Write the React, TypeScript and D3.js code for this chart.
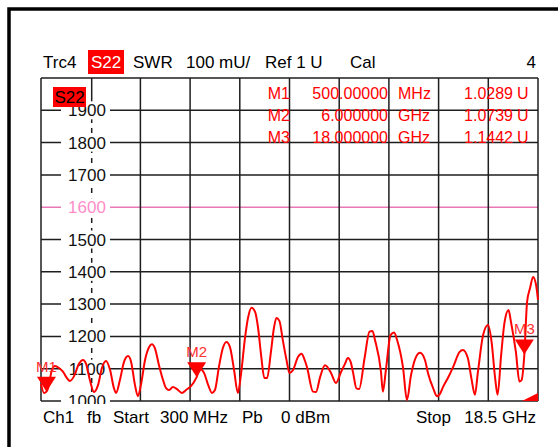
import React from 'react';
import * as d3 from 'd3';

// trace: S22 SWR vs frequency (GHz)
const freqGHz = [
  0.30, 0.41, 0.50, 0.56, 0.70, 0.81, 0.96, 1.11, 1.25, 1.36, 1.51, 1.69, 1.84, 1.95, 2.09, 2.24,
  2.39, 2.53, 2.68, 2.83, 2.97, 3.05, 3.19, 3.34, 3.49, 3.60, 3.74, 3.85, 3.96, 4.11, 4.26, 4.36,
  4.47, 4.62, 4.77, 4.88, 4.99, 5.13, 5.28, 5.46, 5.61, 5.79, 6.00, 6.12, 6.27, 6.42, 6.56, 6.67,
  6.82, 6.96, 7.09, 7.22, 7.37, 7.51, 7.62, 7.77, 7.88, 8.01, 8.14, 8.25, 8.36, 8.48, 8.58, 8.72,
  8.83, 8.92, 9.03, 9.16, 9.29, 9.40, 9.53, 9.71, 9.84, 9.93, 10.04, 10.26, 10.37, 10.52, 10.70, 10.92,
  11.10, 11.29, 11.43, 11.54, 11.65, 11.73, 11.85, 11.95, 12.15, 12.33, 12.44, 12.53, 12.75, 12.82, 12.93, 13.10,
  13.23, 13.34, 13.56, 13.70, 13.85, 14.03, 14.18, 14.36, 14.47, 14.66, 14.80, 14.91, 15.02, 15.20, 15.39, 15.63,
  15.75, 15.93, 16.06, 16.19, 16.30, 16.49, 16.67, 16.80, 16.93, 17.02, 17.15, 17.27, 17.42, 17.51, 17.69, 17.82,
  17.90, 18.00, 18.10, 18.21, 18.32, 18.43, 18.50,
];
const swr = [
  1.053, 1.025, 1.029, 1.040, 1.096, 1.108, 1.102, 1.090, 1.071, 1.062, 1.077, 1.115, 1.127, 1.115, 1.065, 1.028,
  1.050, 1.102, 1.124, 1.096, 1.040, 1.025, 1.065, 1.121, 1.139, 1.121, 1.050, 1.015, 1.050, 1.127, 1.167, 1.176,
  1.164, 1.111, 1.065, 1.040, 1.034, 1.043, 1.037, 1.025, 1.034, 1.046, 1.074, 1.099, 1.087, 1.050, 1.025, 1.034,
  1.108, 1.164, 1.183, 1.167, 1.096, 1.025, 1.080, 1.195, 1.257, 1.289, 1.276, 1.226, 1.142, 1.071, 1.071, 1.152,
  1.226, 1.257, 1.248, 1.186, 1.127, 1.087, 1.096, 1.136, 1.146, 1.133, 1.105, 1.029, 1.028, 1.074, 1.111, 1.087,
  1.056, 1.090, 1.115, 1.133, 1.118, 1.087, 1.039, 1.037, 1.133, 1.215, 1.217, 1.189, 1.090, 1.029, 1.096, 1.204,
  1.212, 1.189, 1.102, 1.003, 1.080, 1.136, 1.149, 1.127, 1.087, 1.040, 1.015, 1.022, 1.043, 1.071, 1.105, 1.152,
  1.158, 1.133, 1.071, 1.019, 1.090, 1.204, 1.235, 1.183, 1.071, 1.019, 1.142, 1.241, 1.282, 1.245, 1.152, 1.060,
  1.065, 1.144, 1.307, 1.350, 1.384, 1.359, 1.313,
];

const markerNames = ['M1', 'M2', 'M3'];
const markerFreq = [0.5, 6, 18];
const markerSwr = [1.0289, 1.0739, 1.1442];
const markerFreqText = ['500.00000', '6.000000', '18.000000'];
const markerUnitText = ['MHz', 'GHz', 'GHz'];
const markerValueText = ['1.0289', '1.0739', '1.1442'];

const yTicks = [1.0, 1.1, 1.2, 1.3, 1.4, 1.5, 1.6, 1.7, 1.8, 1.9, 2.0];
const yTickLabels = ['1000', '1100', '1200', '1300', '1400', '1500', '1600', '1700', '1800', '1900'];
const limitValue = 1.6;

const headerLabels = ['Trc4', 'S22', 'SWR', '100 mU/', 'Ref 1 U', 'Cal', '4'];
const footerLabels = ['Ch1', 'fb', 'Start', '300 MHz', 'Pb', '0 dBm', 'Stop', '18.5 GHz'];

const W = 558;
const H = 447;
const left = 41;
const right = 538;
const top = 78;
const bottom = 401;
const font = '"Liberation Sans", Arial, sans-serif';
const RED = '#ff0000';
const PINK_LINE = '#e879b5';
const PINK_TEXT = '#ff8dc8';

export default function App() {
  const x = d3.scaleLinear().domain([0.3, 18.5]).range([left, right]);
  const y = d3.scaleLinear().domain([1, 2]).range([bottom, top]);
  const divs = d3.range(11).map((i) => 0.3 + (i * 18.2) / 10);
  const axisX = x(divs[1]) + 1;

  const line = d3
    .line<number>()
    .x((_, i) => x(freqGHz[i]))
    .y((d) => y(d))
    .curve(d3.curveMonotoneX);

  const headerX = [43, 88, 133, 186, 265, 350, 536];
  const footerX = [43, 87, 113, 160, 242, 281, 416, 536];

  return (
    <svg
      width={W}
      height={H}
      style={{ position: 'absolute', left: 0, top: 0, display: 'block', background: '#fff' }}
      fontFamily={font}
    >
      <defs>
        <clipPath id="plotClip">
          <rect x={left} y={top} width={right - left} height={bottom - top + 3} />
        </clipPath>
      </defs>

      {/* outer frame */}
      <rect x={9} y={9} width={W} height={H} fill="none" stroke="#000" strokeWidth={3.5} />

      {/* header */}
      <rect x={88} y={50} width={36} height={24} fill={RED} />
      {headerLabels.map((t, i) => (
        <text
          key={t}
          x={i === 1 ? 106 : headerX[i]}
          y={68}
          fontSize={17}
          fill={i === 1 ? '#fff' : '#000'}
          textAnchor={i === 1 ? 'middle' : i === headerLabels.length - 1 ? 'end' : 'start'}
        >
          {t}
        </text>
      ))}

      {/* grid */}
      {yTicks.map((v) => (
        <line
          key={'h' + v}
          x1={left}
          x2={right}
          y1={y(v)}
          y2={y(v)}
          stroke={v === limitValue ? PINK_LINE : '#1e1e1e'}
          strokeWidth={v === limitValue ? 1.6 : 1.5}
        />
      ))}
      {divs.map((d, i) =>
        i === 1 ? null : (
          <line key={'v' + i} x1={x(d)} x2={x(d)} y1={top} y2={bottom} stroke="#1e1e1e" strokeWidth={1.5} />
        )
      )}

      {/* y axis, dashed, with labels */}
      <line x1={axisX} x2={axisX} y1={top} y2={98} stroke="#1e1e1e" strokeWidth={1.5} />
      <line x1={axisX} x2={axisX} y1={98} y2={bottom} stroke="#1e1e1e" strokeWidth={1.5} strokeDasharray="5,5" />
      <g clipPath="url(#plotClip)">
        {yTickLabels.map((t, i) => (
          <g key={t}>
            <rect x={61} y={y(yTicks[i]) - 9} width={49} height={18} fill="#fff" />
            <text
              x={87}
              y={y(yTicks[i]) + 6}
              fontSize={17}
              textAnchor="middle"
              fill={yTicks[i] === limitValue ? PINK_TEXT : '#111'}
            >
              {t}
            </text>
          </g>
        ))}
      </g>
      <rect x={53} y={87} width={33} height={20} fill={RED} />
      <text x={69.5} y={103} fontSize={17} textAnchor="middle" fill="#000">
        S22
      </text>

      {/* marker table */}
      {markerNames.map((m, i) => {
        const by = 99 + i * 22;
        return (
          <g key={m} fontSize={16} fill={RED}>
            <text x={290} y={by} textAnchor="end">{m}</text>
            <text x={388} y={by} textAnchor="end">{markerFreqText[i]}</text>
            <text x={398} y={by}>{markerUnitText[i]}</text>
            <text x={513} y={by} textAnchor="end">{markerValueText[i]}</text>
            <text x={517} y={by}>U</text>
          </g>
        );
      })}

      {/* trace */}
      <path d={line(swr) || ''} fill="none" stroke={RED} strokeWidth={2} strokeLinejoin="round" />

      {/* markers */}
      {markerNames.map((m, i) => {
        const mx = x(markerFreq[i]);
        const my = y(markerSwr[i]);
        return (
          <g key={'mk' + m}>
            <path d={`M${mx - 9.5},${my - 15}L${mx + 9.5},${my - 15}L${mx},${my}Z`} fill={RED} />
            <text x={mx} y={my - 20} fontSize={15} textAnchor="middle" fill="#ff3030">
              {m}
            </text>
          </g>
        );
      })}

      {/* end-of-sweep wedge */}
      <path d={`M${right - 16},${bottom}L${right},${bottom}L${right},${bottom - 8}Z`} fill={RED} />

      {/* footer */}
      {footerLabels.map((t, i) => (
        <text
          key={t}
          x={footerX[i]}
          y={423}
          fontSize={17}
          fill="#000"
          textAnchor={i === footerLabels.length - 1 ? 'end' : 'start'}
        >
          {t}
        </text>
      ))}
    </svg>
  );
}
